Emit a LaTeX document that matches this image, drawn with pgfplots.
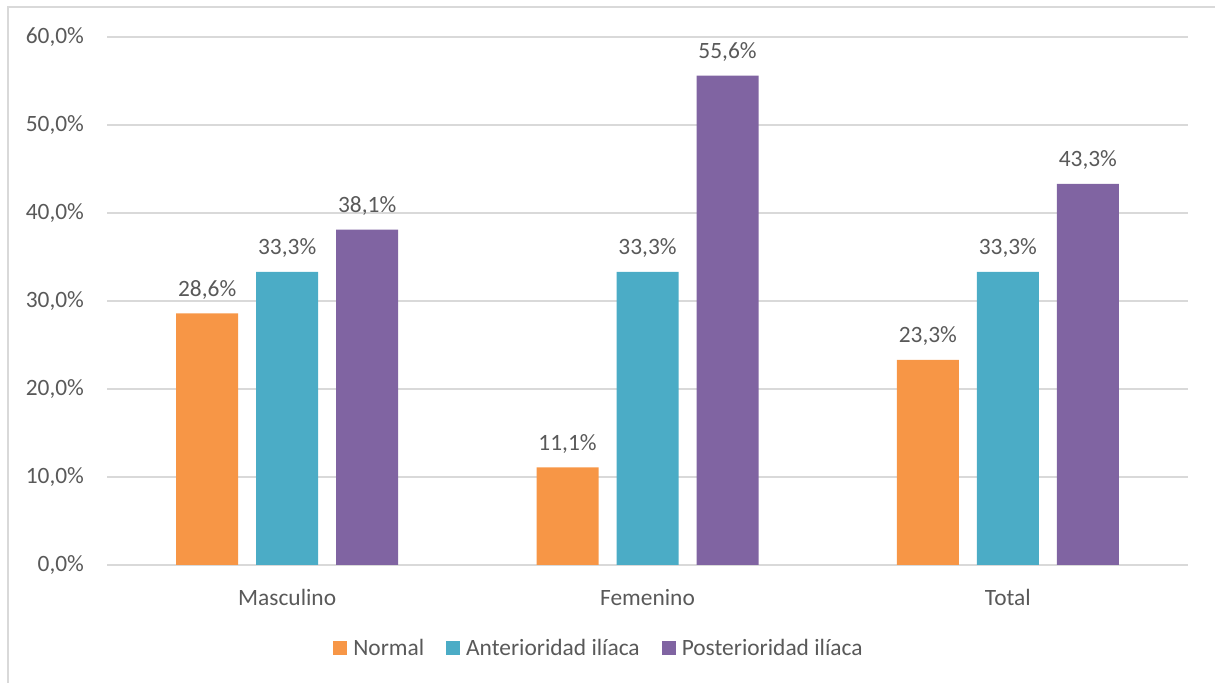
\documentclass[border=0pt]{standalone}
\usepackage{fontspec}
\setmainfont{Carlito}
\usepackage{pgfplots}
\pgfplotsset{compat=1.18}
\definecolor{cNormal}{HTML}{F79646}
\definecolor{cAnt}{HTML}{4BACC6}
\definecolor{cPost}{HTML}{8064A2}
\definecolor{cGrid}{HTML}{D9D9D9}
\definecolor{cText}{HTML}{595959}
\newcommand{\lblfont}{\fontsize{11.7}{14}\selectfont}

\begin{document}
\begin{tikzpicture}[x=0.5pt,y=0.5pt]
\path[use as bounding box] (0,0) rectangle (1215,683);
\draw[cGrid, line width=0.8pt] (8,0) -- (8,676) -- (1215,676);
\begin{axis}[
    at={(53.5pt,59pt)}, anchor=south west,
    width=540.5pt, height=264pt, scale only axis,
    xmin=-0.5, xmax=2.5,
    ymin=0, ymax=60,
    ytick={0,10,20,30,40,50,60},
    xtick={0,1,2},
    xticklabels={Masculino,Femenino,Total},
    yticklabel={\pgfmathprintnumber[fixed,fixed zerofill,precision=1,use comma]{\tick}\%},
    /pgf/number format/assume math mode=true,
    axis lines*=left,
    y axis line style={draw=none},
    x axis line style={draw=cGrid, line width=0.8pt},
    major tick length=0pt,
    ymajorgrids,
    grid style={cGrid, line width=0.8pt},
    tick label style={font=\lblfont, text=cText},
    yticklabel style={xshift=-8pt},
    xticklabel style={yshift=-8.5pt},
    ybar=9pt, bar width=31pt,
    nodes near coords={\pgfmathprintnumber[fixed,fixed zerofill,precision=1,use comma]{\pgfplotspointmeta}\%},
    nodes near coords style={font=\lblfont, text=cText, yshift=3.5pt},
    legend columns=3,
    legend style={at={(0.456,-0.158)}, anchor=center, draw=none, font=\lblfont, text=cText,
        /tikz/every odd column/.append style={column sep=1pt},
        /tikz/every even column/.append style={column sep=9pt}},
    legend image code/.code={\fill (0pt,-3.5pt) rectangle (7pt,3.5pt);},
]
\addplot[fill=cNormal, draw=none] coordinates {(0,28.6) (1,11.1) (2,23.3)};
\addlegendentry{Normal}
\addplot[fill=cAnt, draw=none] coordinates {(0,33.3) (1,33.3) (2,33.3)};
\addlegendentry{Anterioridad ilíaca}
\addplot[fill=cPost, draw=none] coordinates {(0,38.1) (1,55.6) (2,43.3)};
\addlegendentry{Posterioridad ilíaca}
\end{axis}
\end{tikzpicture}
\end{document}
